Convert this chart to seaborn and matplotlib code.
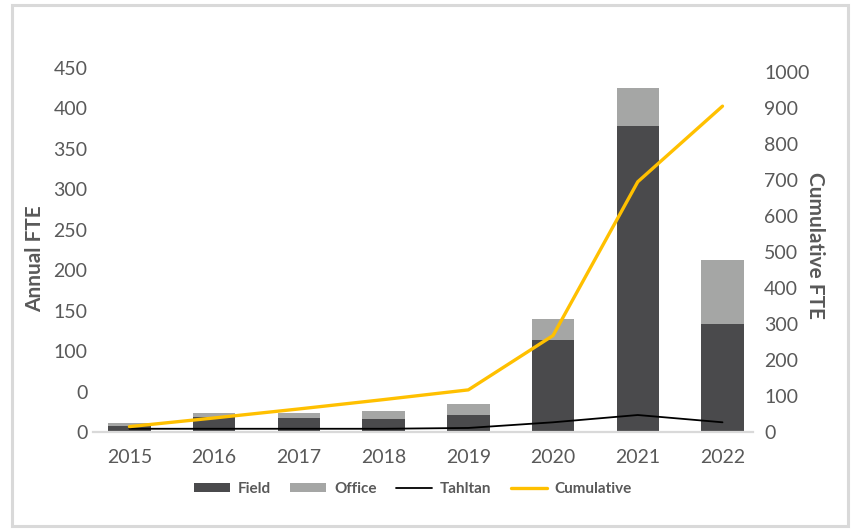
import matplotlib
matplotlib.use("Agg")
import matplotlib.pyplot as plt
import seaborn as sns
import pandas as pd
from matplotlib.patches import Patch, Rectangle
from matplotlib.lines import Line2D

years = ["2015", "2016", "2017", "2018", "2019", "2020", "2021", "2022"]
field = [7, 19, 17, 16, 21, 114, 378, 134]
office = [4, 5, 6, 10, 13, 26, 47, 79]
tahltan = [4, 4, 4, 4, 5, 12, 21, 12]
cumulative = [15, 39, 64, 90, 117, 268, 695, 905]

left_ticks = [0, 50, 100, 150, 200, 250, 300, 350, 400, 450]
left_labels = ["0", "0", "100", "150", "200", "250", "300", "350", "400", "450"]
right_ticks = [0, 100, 200, 300, 400, 500, 600, 700, 800, 900, 1000]

sns.set_theme(style="white")
plt.rcParams["font.family"] = ["Lato", "DejaVu Sans"]

TXT = "#595959"
DARK = "#4a4a4c"
GRAY = "#a5a6a5"
GOLD = "#ffc000"

df = pd.DataFrame({"year": years, "field": field, "office": office,
                   "tahltan": tahltan, "cumulative": cumulative})
df["total"] = df["field"] + df["office"]

fig = plt.figure(figsize=(8.51, 5.29), dpi=100)
ax = fig.add_axes([93 / 851, 1 - 432 / 529, 660 / 851, 364 / 529])

sns.barplot(data=df, x="year", y="total", color=GRAY, width=0.5,
            saturation=1, ax=ax, order=years, linewidth=0)
sns.barplot(data=df, x="year", y="field", color=DARK, width=0.5,
            saturation=1, ax=ax, order=years, linewidth=0)
sns.lineplot(data=df, x="year", y="tahltan", color="black", linewidth=1.3,
             ax=ax, sort=False)

ax2 = ax.twinx()
sns.lineplot(data=df, x="year", y="cumulative", color=GOLD, linewidth=2.4,
             ax=ax2, sort=False)

ax.set_xlim(-0.43, 7.36)
ax.set_ylim(0, 450)
ax2.set_ylim(0, 1011)

ax.set_yticks(left_ticks)
ax.set_yticklabels(left_labels)
ax2.set_yticks(right_ticks)

for a in (ax, ax2):
    for s in a.spines.values():
        s.set_visible(False)
    a.tick_params(length=0, labelsize=14, labelcolor=TXT)
    a.set_xlabel("")
ax.spines["bottom"].set_visible(True)
ax.spines["bottom"].set_color("#d9d9d9")
ax.spines["bottom"].set_linewidth(1.6)
ax.tick_params(axis="y", pad=4)
ax.tick_params(axis="x", pad=12)
ax2.tick_params(axis="y", pad=8)

ax.set_ylabel("")
ax2.set_ylabel("")
fig.text(35 / 851, 1 - 259 / 529, "Annual FTE", rotation=90, ha="center",
         va="center", fontsize=15, fontweight="bold", color=TXT)
fig.text(815 / 851, 1 - 245 / 529, "Cumulative FTE", rotation=-90,
         ha="center", va="center", fontsize=15, fontweight="bold", color=TXT)

handles = [Patch(facecolor=DARK, edgecolor="none", label="Field"),
           Patch(facecolor=GRAY, edgecolor="none", label="Office"),
           Line2D([], [], color="black", linewidth=1.3, label="Tahltan"),
           Line2D([], [], color=GOLD, linewidth=2.4, label="Cumulative")]
leg = fig.legend(handles=handles, loc="center", ncol=4,
                 bbox_to_anchor=(413 / 851, 1 - 489 / 529), frameon=False,
                 prop={"size": 11, "weight": "bold"}, handlelength=2.35,
                 handleheight=0.6, handletextpad=0.5, columnspacing=1.3)
for t in leg.get_texts():
    t.set_color(TXT)

fig.patches.append(Rectangle((11.5 / 851, 1 - 526 / 529), 836 / 851,
                             521 / 529, transform=fig.transFigure,
                             fill=False, edgecolor="#d9d9d9", linewidth=2.2))

fig.savefig("out.png", dpi=100)
